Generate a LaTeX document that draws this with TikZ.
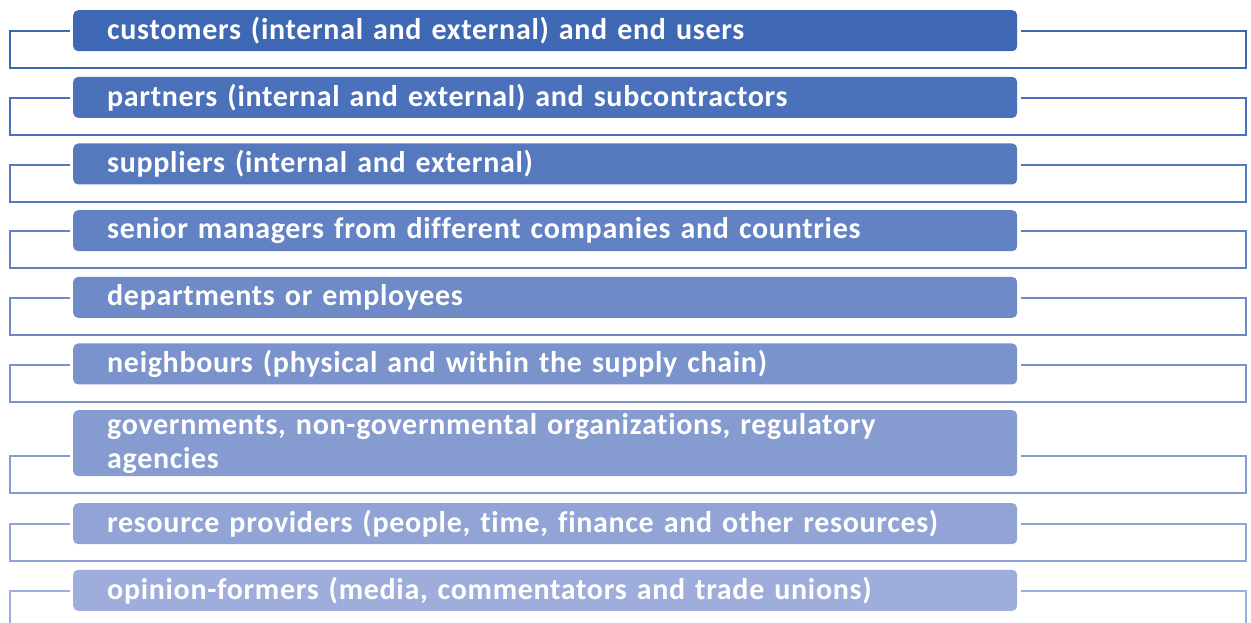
\documentclass[tikz,border=0pt]{standalone}
\usepackage{fontspec}
\setmainfont[RawFeature=-liga, LetterSpace=2.3]{Carlito}
\definecolor{cA}{RGB}{62,104,180}
\definecolor{cB}{RGB}{158,173,219}
\tikzset{
  bar/.style={rectangle, rounded corners=5pt, draw=none, text=white,
    font=\bfseries\fontsize{30}{34}\selectfont, inner xsep=34pt, inner ysep=0pt,
    text width=876pt, align=left, minimum width=944pt, anchor=north west},
  bracket/.style={line width=2pt}
}
\begin{document}
\begin{tikzpicture}[x=1pt,y=1pt]
\useasboundingbox (0,0) rectangle (1251,623);
\foreach \i/\t/\h/\txt in {
  1/10/41/{customers (internal and external) and end users},
  2/76.7/41/{partners (internal and external) and subcontractors},
  3/143.3/41/{suppliers (internal and external)},
  4/210/41/{senior managers from different companies and countries},
  5/276.7/41/{departments or employees},
  6/343.3/41/{neighbours (physical and within the supply chain)},
  7/410/66/{governments, non-governmental organizations, regulatory\\agencies},
  8/503/41/{resource providers (people, time, finance and other resources)},
  9/569.6/41/{opinion-formers (media, commentators and trade unions)}}{
  \pgfmathsetmacro\pct{(\i-1)*12.5}
  \colorlet{rowc}{cB!\pct!cA}
  \node[bar, fill=rowc, minimum height=\h pt] (b\i) at (73,623-\t) {\txt};
  \draw[bracket, draw=rowc]
    ([shift={(-3pt,20pt)}]b\i.south west)
    -| ([shift={(-63pt,-17pt)}]b\i.south west)
    -| ([shift={(229pt,20pt)}]b\i.south east)
    -- ([shift={(4pt,20pt)}]b\i.south east);
}
\end{tikzpicture}
\end{document}
